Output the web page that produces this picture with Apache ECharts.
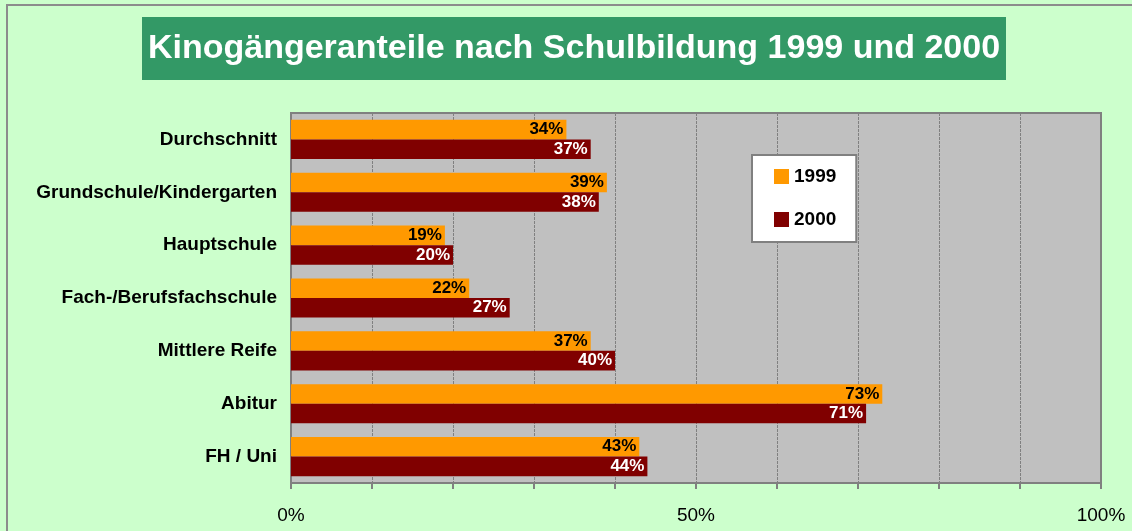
<!DOCTYPE html>
<html>
<head>
<meta charset="utf-8">
<script src="https://cdn.jsdelivr.net/npm/echarts@6/dist/echarts.min.js"></script>
<style>
  html, body { margin: 0; padding: 0; background: #ccffcc; }
  #chart { width: 1132px; height: 531px; }
</style>
</head>
<body>
<div id="chart"></div>
<script>
const categories = [
  'Durchschnitt',
  'Grundschule/Kindergarten',
  'Hauptschule',
  'Fach-/Berufsfachschule',
  'Mittlere Reife',
  'Abitur',
  'FH / Uni',
]
const values1999 = [34, 39, 19, 22, 37, 73, 43]
const values2000 = [37, 38, 20, 27, 40, 71, 44]
const axisLabels = { 0: '0%', 50: '50%', 100: '100%' }

const chart = echarts.init(document.getElementById('chart'), null, { renderer: 'canvas' })

const fontFamily = 'Liberation Sans, Arial, sans-serif'

const barLabel = (color) => ({
  show: true,
  position: 'insideRight',
  distance: 3,
  formatter: '{c}%',
  color,
  fontFamily,
  fontWeight: 'bold',
  fontSize: 17,
})

chart.setOption({
  backgroundColor: '#ccffcc',
  animation: false,
  graphic: [
    // outer chart frame
    {
      type: 'rect',
      shape: { x: 7, y: 5, width: 1140, height: 540 },
      style: { fill: 'none', stroke: '#8c8c8c', lineWidth: 2 },
      silent: true,
    },
    // title box
    {
      type: 'rect',
      shape: { x: 142, y: 17, width: 864, height: 63 },
      style: { fill: '#339966' },
      silent: true,
    },
  ],
  title: {
    text: 'Kinogängeranteile nach Schulbildung 1999 und 2000',
    left: 574,
    top: 49,
    textAlign: 'center',
    textVerticalAlign: 'middle',
    padding: 0,
    textStyle: {
      color: '#fff',
      fontFamily,
      fontWeight: 'bold',
      fontSize: 34,
    },
  },
  legend: {
    data: ['1999', '2000'],
    orient: 'vertical',
    left: 752,
    top: 155,
    itemWidth: 15,
    itemHeight: 15,
    itemGap: 24,
    padding: [12, 20, 13, 22],
    backgroundColor: '#fff',
    borderColor: '#808080',
    borderWidth: 2,
    icon: 'rect',
    textStyle: { fontFamily, fontWeight: 'bold', fontSize: 19, color: '#000' },
  },
  grid: {
    left: 291,
    right: 31,
    top: 113,
    bottom: 48,
    show: true,
    backgroundColor: '#c0c0c0',
    borderColor: '#808080',
    borderWidth: 2,
  },
  xAxis: {
    type: 'value',
    min: 0,
    max: 100,
    interval: 10,
    axisLine: { show: true, lineStyle: { color: '#808080', width: 2 } },
    axisTick: { show: true, length: 6, lineStyle: { color: '#808080', width: 2 } },
    axisLabel: {
      color: '#000',
      fontFamily,
      fontSize: 19,
      margin: 23,
      formatter: (v) => axisLabels[v] || '',
    },
    splitLine: {
      show: true,
      lineStyle: { color: '#808080', type: [3, 1], width: 1 },
    },
  },
  yAxis: {
    type: 'category',
    data: categories,
    inverse: true,
    axisLine: { show: true, lineStyle: { color: '#808080', width: 2 } },
    axisTick: { show: false },
    axisLabel: { fontFamily, fontWeight: 'bold', fontSize: 19, color: '#000', margin: 14 },
  },
  series: [
    {
      name: '1999',
      type: 'bar',
      data: values1999,
      barCategoryGap: '26%',
      barGap: 0,
      itemStyle: { color: '#ff9900' },
      label: barLabel('#000'),
    },
    {
      name: '2000',
      type: 'bar',
      data: values2000,
      barCategoryGap: '26%',
      barGap: 0,
      itemStyle: { color: '#800000' },
      label: barLabel('#fff'),
    },
  ],
})
</script>
</body>
</html>
